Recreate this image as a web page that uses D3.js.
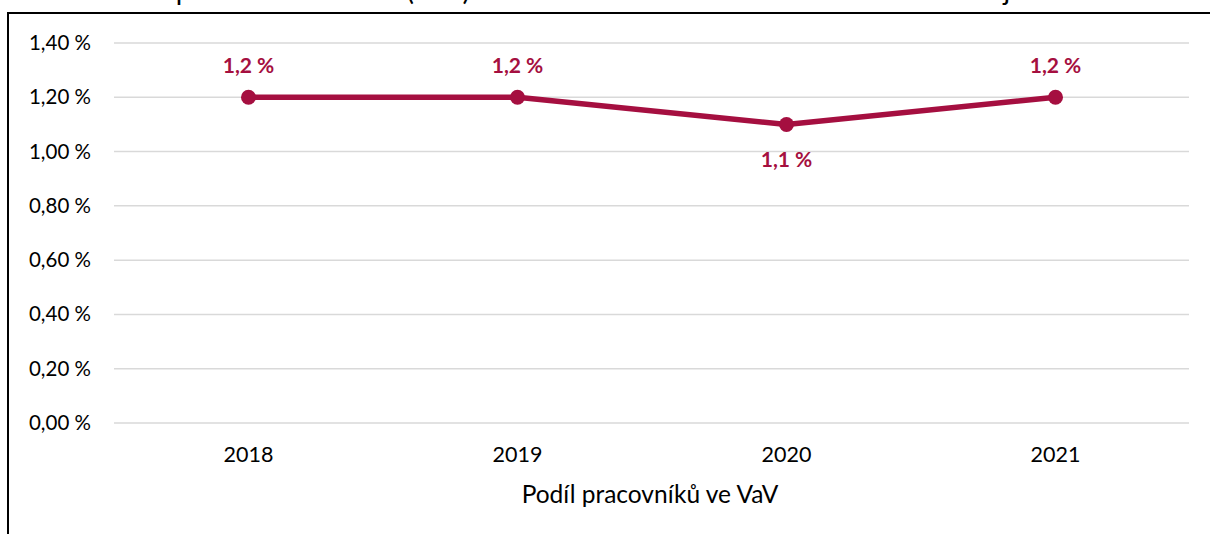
<!DOCTYPE html>
<html>
<head>
<meta charset="utf-8">
<script src="https://cdn.jsdelivr.net/npm/d3@7"></script>
<style>
  body { margin: 0; background: #fff; }
  svg { font-family: Lato, "Open Sans", sans-serif; display: block; }
</style>
</head>
<body>
<svg id="chart" width="1210" height="534"></svg>
<script>
// data
var years = ["2018", "2019", "2020", "2021"];
var shares = [1.2, 1.2, 1.1, 1.2];
var yTicks = [0, 0.2, 0.4, 0.6, 0.8, 1.0, 1.2, 1.4];
var chartTitle = "Graf 12: Podíl pracovníků ve VaV (FTE) na celkové zaměstnanosti v Libereckém kraji";
var axisTitle = "Podíl pracovníků ve VaV";

var svg = d3.select("#chart"),
    width = +svg.attr("width"),
    height = +svg.attr("height");

var color = "#a50f40";
var fmt = function(v, d) { return v.toFixed(d).replace(".", ",") + " %"; };

// title (cut off at the top of the picture, as in the source)
svg.append("text")
    .attr("x", 0)
    .attr("y", -0.5)
    .attr("font-size", 28)
    .attr("fill", "#000")
    .text(chartTitle);

// frame
svg.append("rect")
    .attr("x", 8).attr("y", 13)
    .attr("width", width + 20).attr("height", height + 20)
    .attr("fill", "none")
    .attr("stroke", "#000")
    .attr("stroke-width", 2);

var x = d3.scaleBand().domain(years).range([114, 1190]);
var y = d3.scaleLinear().domain([0, 1.4]).range([423, 43]);

// gridlines
svg.append("g")
  .selectAll("line")
  .data(yTicks)
  .enter().append("line")
    .attr("x1", 114).attr("x2", 1189)
    .attr("y1", function(d) { return y(d); })
    .attr("y2", function(d) { return y(d); })
    .attr("stroke", "#d9d9d9")
    .attr("stroke-width", 1.5);

// y axis labels
var yAxis = svg.append("g")
    .attr("transform", "translate(91,0)")
    .call(d3.axisLeft(y).tickValues(yTicks).tickSize(0).tickPadding(0)
        .tickFormat(function(d) { return fmt(d, 2); }));
yAxis.select(".domain").remove();
yAxis.selectAll("text")
    .attr("font-size", 20.5)
    .attr("font-family", "Lato, sans-serif")
    .attr("fill", "#000");

// x axis labels
var xAxis = svg.append("g")
    .attr("transform", "translate(0,447)")
    .call(d3.axisBottom(x).tickSize(0).tickPadding(0));
xAxis.select(".domain").remove();
xAxis.selectAll("text")
    .attr("font-size", 21.5)
    .attr("font-family", "Lato, sans-serif")
    .attr("fill", "#000");

svg.append("text")
    .attr("x", 650)
    .attr("y", 503)
    .attr("text-anchor", "middle")
    .attr("font-size", 24.5)
    .attr("fill", "#000")
    .text(axisTitle);

var pts = years.map(function(yr, i) { return { year: yr, value: shares[i] }; });
var cx = function(d) { return x(d.year) + x.bandwidth() / 2; };

var line = d3.line()
    .x(cx)
    .y(function(d) { return y(d.value); });

svg.append("path")
    .datum(pts)
    .attr("d", line)
    .attr("fill", "none")
    .attr("stroke", color)
    .attr("stroke-width", 5.5)
    .attr("stroke-linejoin", "round");

svg.append("g")
  .selectAll("circle")
  .data(pts)
  .enter().append("circle")
    .attr("cx", cx)
    .attr("cy", function(d) { return y(d.value); })
    .attr("r", 7.5)
    .attr("fill", color);

// labels: above the max points, below the dip
svg.append("g")
  .selectAll("text")
  .data(pts)
  .enter().append("text")
    .attr("x", cx)
    .attr("y", function(d) {
        var below = d.value < d3.max(shares);
        return y(d.value) + (below ? 43 : -24);
    })
    .attr("text-anchor", "middle")
    .attr("font-size", 21)
    .attr("font-weight", "bold")
    .attr("fill", color)
    .text(function(d) { return fmt(d.value, 1); });
</script>
</body>
</html>
